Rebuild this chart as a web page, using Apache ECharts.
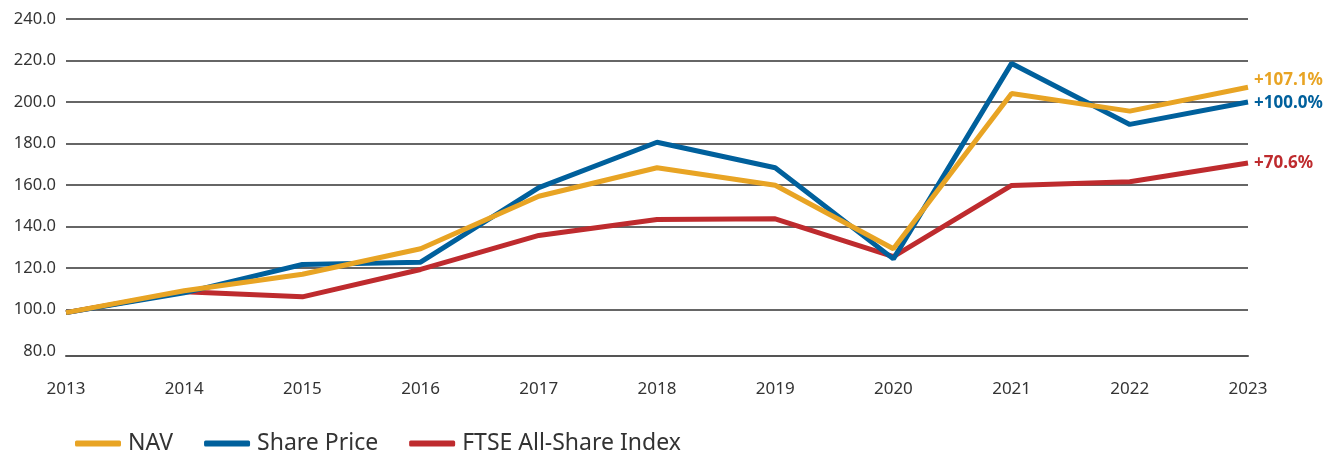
<!DOCTYPE html>
<html>
<head>
<meta charset="utf-8">
<script src="https://cdn.jsdelivr.net/npm/echarts@6/dist/echarts.min.js"></script>
<style>
  html, body { margin: 0; padding: 0; background: #fff; }
  #chart { width: 1329px; height: 453px; }
</style>
</head>
<body>
<div id="chart"></div>
<script>
const years = ['2013', '2014', '2015', '2016', '2017', '2018', '2019', '2020', '2021', '2022', '2023']
const navData = [98.5, 109, 117, 129.3, 154.6, 168.3, 159.9, 129.3, 204.1, 195.6, 207.1]
const shareData = [98.5, 108, 121.7, 122.8, 158.7, 180.6, 168.3, 124.4, 218.6, 189.2, 200.0]
const ftseData = [98.5, 108.5, 106.1, 119.3, 135.7, 143.4, 143.7, 125.5, 159.8, 161.6, 170.6]
const endLabels = ['+107.1%', '+100.0%', '+70.6%']
const seriesNames = ['NAV', 'Share Price', 'FTSE All-Share Index']
const colors = ['#E8A424', '#00609C', '#BE2B2E']

const chart = echarts.init(document.getElementById('chart'))
const font = '"Noto Sans", sans-serif'

const makeSeries = (i, data, z, offsetY) => ({
  name: seriesNames[i],
  type: 'line',
  data: data,
  symbol: 'none',
  z: z,
  lineStyle: { color: colors[i], width: 5 },
  itemStyle: { color: colors[i] },
  endLabel: {
    show: true,
    formatter: () => endLabels[i],
    color: colors[i],
    fontFamily: font,
    fontWeight: 'bold',
    fontSize: 17,
    distance: 6,
    offset: [0, offsetY]
  }
})

const option = {
  animation: false,
  grid: { left: 66, right: 81, top: 19, bottom: 102 },
  legend: {
    left: 70,
    top: 427,
    itemWidth: 46,
    itemHeight: 6,
    itemGap: 31,
    icon: 'roundRect',
    textStyle: { fontFamily: font, fontSize: 23, color: '#333', padding: [0, 0, 0, 2] },
    data: seriesNames
  },
  xAxis: {
    type: 'category',
    data: years,
    boundaryGap: false,
    offset: 5,
    axisLine: { lineStyle: { color: '#555', width: 2 } },
    axisTick: { show: false },
    axisLabel: { fontFamily: font, fontSize: 17, color: '#333', margin: 25 }
  },
  yAxis: {
    type: 'value',
    min: 80,
    max: 240,
    interval: 20,
    axisLine: { show: false },
    axisTick: { show: false },
    axisLabel: {
      fontFamily: font,
      fontSize: 16.5,
      color: '#333',
      margin: 10,
      formatter: (v) => v.toFixed(1)
    },
    splitLine: { showMinLine: false, lineStyle: { color: '#333', width: 1.5 } }
  },
  series: [
    makeSeries(0, navData, 4, -7),
    makeSeries(1, shareData, 3, 1),
    makeSeries(2, ftseData, 2, 0)
  ]
}
chart.setOption(option)
</script>
</body>
</html>
